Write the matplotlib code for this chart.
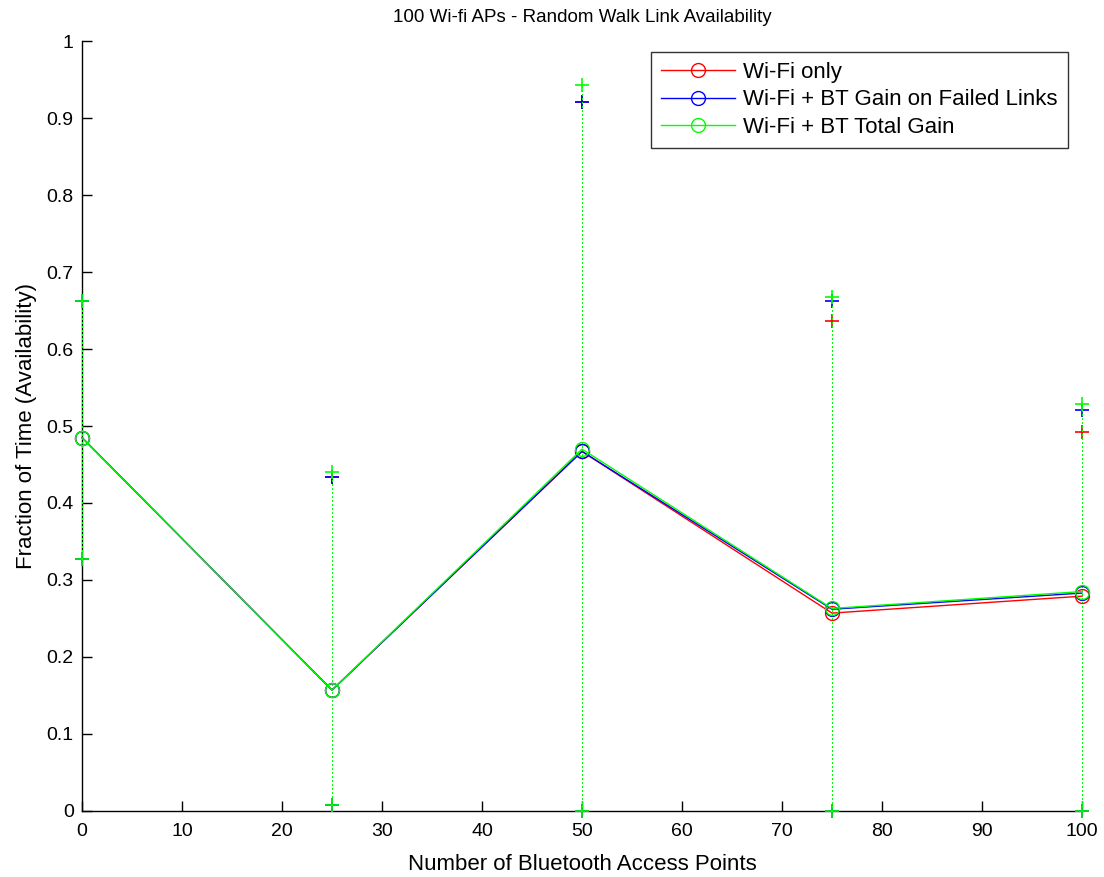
import matplotlib
matplotlib.use("Agg")
import matplotlib.pyplot as plt

# ---- data ----
bt_aps = [0, 25, 50, 75, 100]

wifi_mean = [0.485, 0.157, 0.467, 0.257, 0.279]
wifi_hi = [0.663, 0.434, 0.921, 0.636, 0.492]
wifi_lo = [0.327, 0.008, 0.0, 0.0, 0.0]

failed_mean = [0.485, 0.157, 0.467, 0.262, 0.283]
failed_hi = [0.663, 0.434, 0.921, 0.662, 0.521]
failed_lo = [0.327, 0.008, 0.0, 0.0, 0.0]

total_mean = [0.485, 0.157, 0.470, 0.263, 0.285]
total_hi = [0.663, 0.440, 0.943, 0.668, 0.529]
total_lo = [0.327, 0.008, 0.0, 0.0, 0.0]

labels = ["Wi-Fi only", "Wi-Fi + BT Gain on Failed Links", "Wi-Fi + BT Total Gain"]
colors = ["#ff0000", "#0000ff", "#00ff00"]
x_ticks = [0, 10, 20, 30, 40, 50, 60, 70, 80, 90, 100]
y_ticks = [0, 0.1, 0.2, 0.3, 0.4, 0.5, 0.6, 0.7, 0.8, 0.9, 1]
y_tick_labels = ["0", "0.1", "0.2", "0.3", "0.4", "0.5", "0.6", "0.7", "0.8", "0.9", "1"]

plt.rcParams['font.family'] = ['Liberation Sans', 'DejaVu Sans']

fig = plt.figure(figsize=(11.04, 8.77), dpi=100)
ax = fig.add_axes([0.0743, 0.0753, 0.9057, 0.8779])

series = [(wifi_mean, wifi_lo, wifi_hi),
          (failed_mean, failed_lo, failed_hi),
          (total_mean, total_lo, total_hi)]

# error ranges (dotted with + at ends)
for (m, lo, hi), c in zip(series, colors):
    for xi, l, h in zip(bt_aps, lo, hi):
        ax.plot([xi, xi], [l, h], linestyle=':', color=c, linewidth=1.0,
                marker='+', markersize=10, markeredgewidth=1.2, clip_on=False,
                antialiased=False, zorder=3)

# mean lines
for (m, lo, hi), c, lab in zip(series, colors, labels):
    ax.plot(bt_aps, m, '-', color=c, linewidth=1.0, marker='o', markersize=10,
            markerfacecolor='none', markeredgecolor=c, markeredgewidth=1.0,
            label=lab, clip_on=False, zorder=4)

ax.set_xlim(0, 100)
ax.set_ylim(0, 1)
ax.set_xticks(x_ticks)
ax.set_yticks(y_ticks)
ax.set_yticklabels(y_tick_labels)
ax.tick_params(direction='in', length=7, width=1, labelsize=14)
ax.tick_params(axis='y', pad=6)
ax.tick_params(axis='x', pad=9)
for s in ['top', 'right']:
    ax.spines[s].set_visible(False)
for s in ['left', 'bottom']:
    ax.spines[s].set_linewidth(1.0)
    ax.spines[s].set_zorder(2)

ax.set_title("100 Wi-fi APs - Random Walk Link Availability", fontsize=13.5, pad=14)
ax.set_xlabel("Number of Bluetooth Access Points", fontsize=16, labelpad=10)
ax.set_ylabel("Fraction of Time (Availability)", fontsize=16, labelpad=7)

leg = ax.legend(loc='upper right', bbox_to_anchor=(0.986, 0.986), fontsize=16,
                frameon=True, fancybox=False, borderpad=0.45, labelspacing=0.3,
                handlelength=3.3, handletextpad=0.4, borderaxespad=0)
leg.get_frame().set_edgecolor('black')
leg.get_frame().set_linewidth(1.0)
leg.set_zorder(5)

fig.savefig("out.png", dpi=100)
